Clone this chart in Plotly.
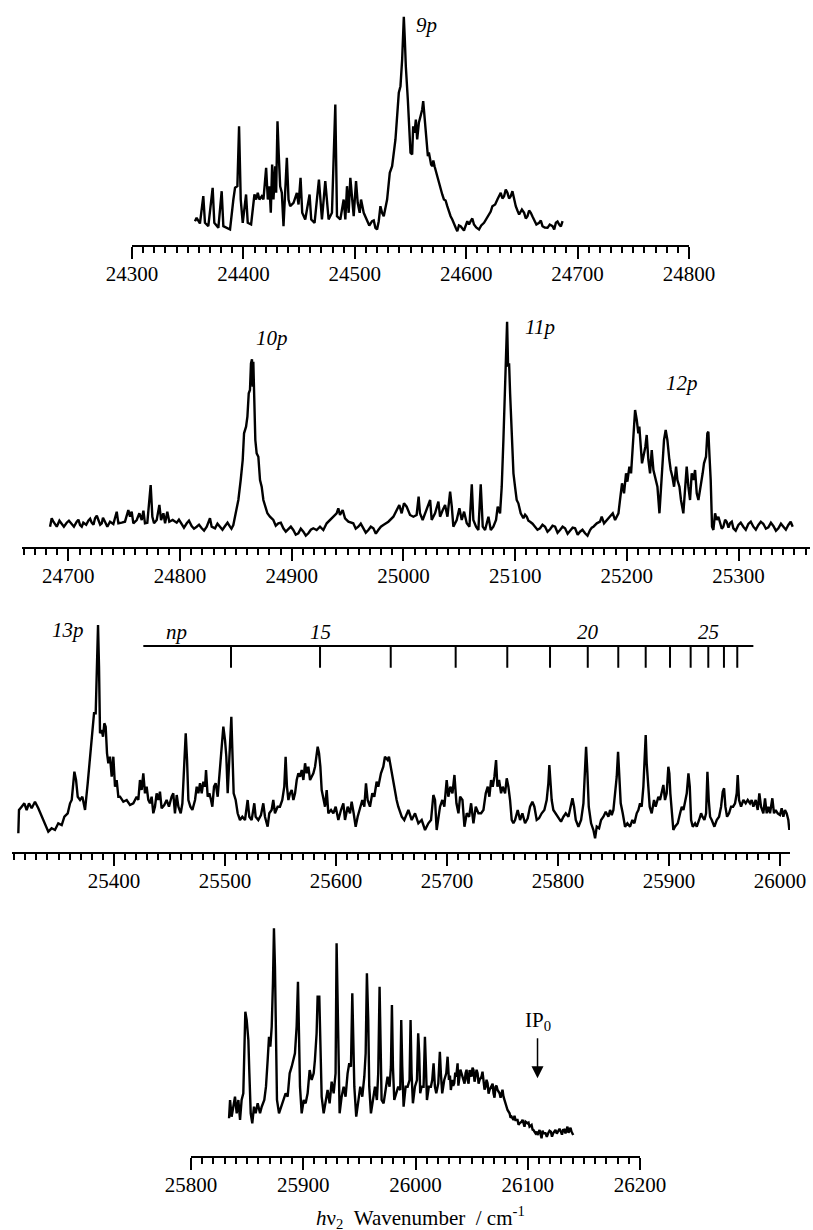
import plotly.graph_objects as go

# ---------------- data (wavenumber / cm-1, signal in arbitrary units) ----------------
p1_wn = [24356.5, 24358.0, 24361.0, 24364.0, 24365.5, 24368.5, 24372.4, 24373.9, 24377.5, 24380.5,
         24382.0, 24385.0, 24388.0, 24391.0, 24392.5, 24394.6, 24396.1, 24397.6, 24399.4, 24402.4,
         24403.9, 24406.9, 24409.9, 24411.4, 24412.9, 24414.4, 24416.5, 24418.0, 24420.4, 24421.9,
         24423.4, 24424.6, 24425.8, 24427.0, 24428.5, 24429.4, 24430.6, 24431.8, 24433.0, 24434.5,
         24436.0, 24439.0, 24440.5, 24442.0, 24445.0, 24448.0, 24449.5, 24451.3, 24452.8, 24455.5,
         24459.4, 24460.9, 24463.9, 24467.8, 24469.0, 24470.5, 24473.5, 24475.0, 24476.5, 24479.5,
         24482.5, 24484.0, 24487.0, 24490.0, 24491.5, 24493.0, 24494.5, 24496.0, 24497.5, 24499.0,
         24501.1, 24502.6, 24504.4, 24505.6, 24508.0, 24511.0, 24515.5, 24518.5, 24521.5, 24523.0,
         24524.5, 24526.0, 24529.0, 24531.4, 24533.5, 24536.5, 24539.5, 24541.0, 24542.5, 24543.4,
         24544.0, 24544.9, 24545.8, 24547.6, 24548.8, 24550.0, 24551.5, 24552.4, 24553.6, 24554.8,
         24556.0, 24557.5, 24559.0, 24560.5, 24561.4, 24562.6, 24564.4, 24565.6, 24567.4, 24569.5,
         24571.6, 24574.0, 24577.0, 24580.0, 24583.0, 24586.0, 24589.0, 24592.0, 24595.0, 24601.0,
         24604.0, 24607.0, 24611.5, 24616.0, 24620.5, 24623.5, 24628.0, 24631.0, 24634.0, 24637.0,
         24640.0, 24641.5, 24644.5, 24647.5, 24652.0, 24655.0, 24658.0, 24661.0, 24665.5, 24668.5,
         24673.0, 24677.5, 24680.5, 24683.5, 24686.5]
p1_sig = [23.3, 26.7, 21.0, 48.3, 21.7, 18.3, 56.7, 21.7, 16.7, 53.3,
          18.3, 16.7, 15.0, 45.0, 56.7, 58.3, 118.3, 45.0, 21.7, 50.0,
          21.7, 20.0, 50.0, 45.0, 51.7, 45.0, 48.3, 45.0, 76.7, 45.0,
          58.3, 31.7, 80.0, 45.0, 78.3, 51.7, 123.3, 88.3, 58.3, 51.7,
          18.3, 86.7, 45.0, 38.3, 41.7, 51.7, 40.0, 66.7, 31.7, 25.0,
          50.0, 25.0, 21.7, 65.0, 45.0, 25.0, 63.3, 41.7, 25.0, 31.7,
          140.0, 28.3, 25.0, 45.0, 25.0, 58.3, 31.7, 66.7, 45.0, 28.3,
          63.3, 41.7, 31.7, 45.0, 31.7, 25.0, 23.3, 16.7, 23.3, 38.3,
          31.7, 28.3, 45.0, 71.7, 78.3, 105.0, 151.7, 158.3, 185.0, 205.0,
          227.7, 205.0, 178.3, 145.0, 111.7, 91.7, 90.0, 118.3, 111.7, 125.0,
          105.0, 121.7, 128.3, 135.0, 143.3, 128.3, 105.0, 88.3, 85.0, 78.3,
          78.3, 68.3, 55.0, 45.0, 38.3, 28.3, 21.7, 13.3, 18.3, 23.3,
          23.3, 20.0, 15.0, 21.7, 30.0, 38.3, 45.0, 51.7, 48.3, 51.7,
          48.3, 53.3, 38.3, 30.0, 31.7, 28.3, 31.7, 25.0, 21.7, 18.3,
          16.7, 18.3, 21.7, 20.0, 23.3]
# extra readings of the trace's fine structure (noise) in panel 1
p1_wn_fine = [24509.5, 24513.0, 24517.0, 24520.0, 24566.5, 24568.5, 24570.5, 24573.0, 24575.5,
              24578.5, 24581.5, 24584.5, 24587.5, 24590.5, 24593.5, 24598.0, 24602.5, 24605.5,
              24609.0, 24613.5, 24618.0, 24622.0, 24626.0, 24629.5, 24632.5, 24635.5, 24638.5,
              24643.0, 24646.0, 24650.0, 24653.5, 24656.5, 24659.5, 24663.0, 24667.0, 24670.5,
              24675.0, 24679.0, 24682.0, 24685.0]
p1_sig_fine = [28, 19, 24, 15, 92, 80, 84, 72, 63,
               50, 44, 33, 25, 17, 19, 14, 20, 26,
               17, 19, 26, 33, 40, 49, 46, 55, 46,
               45, 34, 35, 26, 34, 28, 20, 24, 17,
               20, 15, 23, 18]

p2_wn = [24683.6, 24685.1, 24686.6, 24689.6, 24694.0, 24698.5, 24703.0, 24707.5, 24710.5, 24713.4,
         24717.9, 24720.9, 24723.9, 24726.9, 24729.9, 24732.8, 24734.9, 24737.3, 24740.3, 24743.3,
         24744.8, 24747.8, 24750.7, 24753.7, 24755.2, 24756.7, 24758.2, 24761.2, 24763.6, 24765.7,
         24767.2, 24768.6, 24770.7, 24773.7, 24775.2, 24776.7, 24779.1, 24781.5, 24783.0, 24785.1,
         24786.6, 24788.6, 24790.4, 24793.4, 24797.0, 24801.5, 24806.0, 24810.4, 24814.9, 24819.4,
         24823.9, 24826.8, 24828.3, 24831.3, 24835.8, 24840.3, 24844.7, 24847.7, 24850.1, 24852.2,
         24854.3, 24856.1, 24857.3, 24859.1, 24860.3, 24861.5, 24862.6, 24863.5, 24864.4, 24865.0,
         24865.6, 24866.5, 24867.4, 24868.6, 24870.1, 24871.6, 24873.1, 24874.6, 24876.1, 24878.2,
         24880.5, 24883.5, 24888.0, 24892.5, 24897.0, 24901.4, 24905.9, 24910.4, 24914.9, 24919.3,
         24922.3, 24925.3, 24928.3, 24931.3, 24934.3, 24937.2, 24940.2, 24941.7, 24943.2, 24945.6,
         24947.7, 24950.7, 24955.1, 24959.6, 24964.1, 24968.6, 24973.1, 24977.5, 24982.0, 24986.5,
         24991.0, 24994.0, 24996.3, 24998.4, 25000.5, 25002.9, 25005.9, 25008.9, 25011.8, 25013.6,
         25014.8, 25017.2, 25023.9, 25025.3, 25028.3, 25031.3, 25032.8, 25035.2, 25037.3, 25039.4,
         25041.8, 25043.3, 25044.7, 25047.7, 25050.1, 25052.2, 25054.3, 25056.7, 25059.1, 25061.2,
         25062.6, 25065.0, 25067.1, 25069.2, 25071.0, 25073.1, 25076.1, 25078.2, 25080.5, 25082.9,
         25084.4, 25086.5, 25088.0, 25089.5, 25091.0, 25091.9, 25092.8, 25093.7, 25094.6, 25095.5,
         25097.0, 25098.5, 25099.9, 25101.4, 25102.9, 25105.0, 25107.4, 25110.4, 25113.4, 25117.8,
         25122.3, 25126.8, 25131.3, 25135.8, 25140.2, 25144.7, 25149.2, 25153.7, 25158.1, 25162.6,
         25167.1, 25170.1, 25173.1, 25176.0, 25177.5, 25179.6, 25182.0, 25185.0, 25187.4, 25189.5,
         25192.5, 25193.9, 25195.7, 25197.5, 25199.3, 25200.5, 25202.3, 25203.8, 25205.9, 25207.4,
         25208.9, 25210.3, 25211.2, 25212.4, 25213.6, 25214.8, 25216.6, 25217.8, 25219.3, 25220.8,
         25222.3, 25223.8, 25225.3, 25227.4, 25229.2, 25230.3, 25231.8, 25233.3, 25234.8, 25236.3,
         25238.1, 25239.3, 25240.8, 25242.3, 25244.1, 25245.3, 25247.1, 25248.5, 25250.6, 25252.1,
         25253.6, 25255.1, 25256.6, 25258.1, 25259.6, 25261.1, 25262.6, 25264.1, 25266.2, 25267.9,
         25269.1, 25270.9, 25272.1, 25273.0, 25273.9, 25275.1, 25276.3, 25277.5, 25279.0, 25280.5,
         25283.5, 25286.4, 25289.4, 25292.4, 25295.4, 25299.9, 25304.3, 25308.8, 25313.3, 25317.8,
         25322.3, 25326.7, 25331.2, 25335.7, 25340.2, 25344.6, 25346.7, 25348.5]
p2_sig = [20, 28.4, 25, 20, 23.4, 24, 22.7, 25, 21.7, 24,
          26, 24, 28.4, 26.7, 23.4, 25, 20, 25, 22.7, 35,
          23.4, 24, 25, 36.7, 30, 35, 23.4, 26.7, 33.4, 26.7,
          36, 23.4, 24, 61.7, 30, 23.4, 26.7, 41.7, 26.7, 33.4,
          23.4, 35, 25, 26.7, 24, 22.7, 23.4, 20.7, 20, 18.4,
          20, 28.4, 20, 18.4, 20, 20.7, 20, 21.7, 33.4, 46.7,
          66.7, 86.7, 113.4, 120, 130, 153.4, 156.7, 183.4, 187.4, 160,
          185, 146.7, 106.7, 93.4, 90, 66.7, 60, 46.7, 40, 33.4,
          30, 26.7, 23.4, 18.4, 17.4, 16.7, 13.4, 15, 13.4, 18.4,
          16.7, 20, 16.7, 23.4, 26.7, 30, 33.4, 38.4, 31.7, 36.7,
          28.4, 25, 23.4, 20, 18.4, 16.7, 18.4, 16.7, 21.7, 25,
          30, 36.7, 41.7, 33.4, 43.4, 40, 31.7, 30, 31.7, 50,
          33.4, 26.7, 46.7, 26.7, 33.4, 45, 30, 36.7, 41.7, 30,
          55, 40, 20, 26.7, 38.4, 26.7, 35, 23.4, 20, 62.4,
          26.7, 20, 16.7, 62.4, 20, 16.7, 30, 16.7, 20, 26.7,
          40, 33.4, 60, 106.7, 163.4, 186.7, 225, 180, 183.4, 153.4,
          110, 73.4, 60, 46.7, 43.4, 33.4, 28.4, 30, 25, 20,
          18.4, 20, 17.4, 20, 16.7, 18.4, 16, 18.4, 15, 13.4,
          16.7, 20, 23.4, 25, 30, 23.4, 26.7, 30, 33.4, 26.7,
          33.4, 46.7, 63.4, 53.4, 73.4, 65, 80, 73.4, 106.7, 136.7,
          126.7, 113.4, 120, 103.4, 83.4, 90, 100, 111.7, 86.7, 73.4,
          96.7, 76.7, 70, 60, 33.4, 53.4, 73.4, 106.7, 116.7, 106.7,
          86.7, 76.7, 70, 60, 80, 66.7, 60, 46.7, 33.4, 56.7,
          80, 60, 46.7, 73.4, 66.7, 76.7, 53.4, 46.7, 60, 73.4,
          83.4, 90, 113.4, 115, 93.4, 66.7, 20, 16.7, 33.4, 26.7,
          23.4, 20, 25, 23.4, 18.4, 21.7, 20, 22.7, 20, 21.7,
          22.7, 19.4, 20.7, 18.4, 20, 21.7, 25, 20]
p2_wn_fine = [24692.0, 24696.0, 24700.5, 24705.0, 24709.0, 24712.0, 24716.0, 24719.5, 24722.5,
              24725.5, 24728.5, 24731.0, 24799.0, 24803.5, 24808.0, 24812.5, 24817.0, 24821.5,
              24833.5, 24838.0, 24842.5, 24846.0,
              24885.7, 24890.2, 24894.7, 24899.2, 24903.6, 24908.1, 24912.6, 24917.1,
              24957.3, 24961.8, 24966.3, 24970.8, 24975.3, 24979.8,
              25108.9, 25111.9, 25115.6, 25120.0, 25124.5, 25129.0, 25133.5, 25138.0, 25142.5,
              25147.0, 25151.5, 25156.0, 25160.3, 25164.8, 25168.6,
              25282.0, 25285.0, 25288.0, 25291.0, 25294.0, 25297.5, 25302.0, 25306.5, 25311.0,
              25315.5, 25320.0, 25324.5, 25329.0, 25333.5, 25338.0, 25342.4]
p2_sig_fine = [26, 20, 26, 20, 27, 20, 22, 28, 22,
               31, 22, 29, 27, 19, 26, 18, 22, 16,
               23, 17, 24, 18,
               21, 24, 15, 20, 12, 18, 11, 17,
               18, 23, 14, 20, 13, 20,
               32, 26, 23, 17, 22, 15, 21, 14, 20,
               13, 19, 12, 17, 11, 19,
               30, 18, 27, 19, 25, 16, 24, 17, 25,
               17, 25, 18, 24, 16, 23, 17]

p3_wn = [25313.8, 25314.4, 25316.8, 25319.2, 25321.3, 25323.4, 25325.8, 25328.8, 25331.8, 25334.8,
         25337.8, 25340.8, 25343.8, 25346.8, 25349.8, 25352.9, 25355.3, 25358.3, 25360.4, 25361.9,
         25364.3, 25365.8, 25367.3, 25369.4, 25371.5, 25373.9, 25376.3, 25378.4, 25380.5, 25382.0,
         25383.5, 25384.7, 25385.6, 25386.5, 25387.4, 25388.9, 25390.1, 25391.3, 25392.5, 25393.7,
         25394.9, 25396.4, 25397.9, 25399.4, 25400.9, 25402.4, 25403.9, 25405.4, 25408.4, 25411.4,
         25414.4, 25417.4, 25420.4, 25421.9, 25423.4, 25424.9, 25426.4, 25427.9, 25429.4, 25430.9,
         25432.4, 25433.9, 25435.4, 25436.9, 25438.4, 25439.9, 25441.4, 25442.9, 25445.3, 25447.4,
         25449.5, 25451.9, 25453.4, 25454.9, 25456.5, 25458.0, 25460.1, 25461.6, 25463.4, 25464.6,
         25465.8, 25467.0, 25468.8, 25470.6, 25473.0, 25474.5, 25476.0, 25477.5, 25479.0, 25480.5,
         25482.0, 25482.9, 25484.4, 25485.9, 25487.4, 25488.6, 25490.1, 25491.6, 25493.4, 25495.5,
         25497.0, 25498.5, 25500.0, 25501.2, 25502.4, 25503.6, 25504.8, 25505.7, 25506.6, 25507.8,
         25509.6, 25511.4, 25513.5, 25515.6, 25518.0, 25520.4, 25521.9, 25524.0, 25526.4, 25527.6,
         25530.0, 25532.4, 25534.5, 25536.0, 25538.4, 25539.9, 25542.0, 25543.5, 25545.0, 25547.4,
         25549.5, 25551.6, 25553.4, 25554.6, 25555.8, 25557.1, 25558.6, 25560.1, 25561.6, 25563.1,
         25564.6, 25566.1, 25567.6, 25569.1, 25570.6, 25572.1, 25573.6, 25575.1, 25576.6, 25578.1,
         25579.6, 25581.1, 25582.6, 25583.5, 25584.7, 25585.9, 25587.1, 25588.6, 25590.1, 25591.6,
         25593.1, 25595.5, 25597.6, 25599.7, 25602.1, 25604.5, 25606.6, 25608.1, 25610.5, 25612.6,
         25614.1, 25615.9, 25617.7, 25619.5, 25621.6, 25623.7, 25625.5, 25627.0, 25628.5, 25630.6,
         25632.7, 25634.5, 25636.6, 25638.1, 25640.5, 25642.6, 25644.1, 25646.5, 25647.7, 25649.5,
         25651.0, 25652.5, 25654.6, 25656.1, 25659.2, 25661.5,
         25665.2, 25668.2, 25671.2, 25674.2, 25677.2, 25680.2, 25683.2, 25685.6, 25687.7, 25689.2,
         25690.7, 25693.7, 25695.8, 25697.6, 25699.7, 25701.2, 25703.0, 25704.9, 25706.7, 25708.5,
         25710.3, 25711.8, 25713.9, 25715.7, 25717.8, 25719.9, 25721.7, 25723.8, 25725.9, 25728.3,
         25730.7, 25732.8, 25734.9, 25736.7, 25738.2, 25739.7, 25741.2, 25742.7, 25744.2, 25745.4,
         25746.9, 25748.7, 25750.2, 25752.3, 25753.8, 25755.3, 25756.8, 25758.3, 25759.8, 25761.3,
         25763.7, 25765.8, 25767.9, 25770.3, 25772.7, 25774.8, 25776.9, 25778.7, 25780.8, 25782.9,
         25785.3, 25787.7, 25789.8, 25791.3, 25792.2, 25793.1, 25794.3, 25795.8, 25797.9, 25800.3,
         25802.7, 25804.9, 25807.0, 25809.4, 25811.5, 25813.0, 25814.5, 25816.0, 25818.4, 25820.8,
         25822.9, 25824.1, 25825.3, 25826.5, 25827.7, 25829.8, 25831.9, 25833.4, 25834.9, 25837.0,
         25838.8, 25840.9, 25843.0, 25845.4, 25846.9, 25848.4, 25849.9, 25851.4, 25852.9, 25854.1,
         25855.3, 25856.5, 25858.3, 25860.4, 25862.5, 25864.9, 25867.0, 25868.8, 25870.9, 25872.4,
         25873.9, 25875.4, 25876.9, 25878.1, 25879.0, 25879.9, 25881.1, 25882.6, 25884.4, 25886.5,
         25888.0, 25890.4, 25891.9, 25893.4, 25894.9, 25896.4, 25897.9, 25899.4, 25900.3, 25901.2,
         25902.4, 25903.9, 25905.4, 25907.9, 25910.0, 25911.5, 25913.0, 25914.5, 25916.0, 25917.5,
         25918.7, 25919.9, 25921.4, 25923.5, 25925.0, 25927.1, 25928.9, 25930.1, 25931.9, 25933.4,
         25934.6, 25935.8, 25937.0, 25938.5, 25940.9, 25943.0, 25945.1, 25946.9, 25948.4, 25949.6,
         25950.8, 25952.3, 25954.1, 25955.9, 25957.7, 25959.5, 25961.0, 25961.9, 25963.1, 25964.9,
         25967.0, 25969.1, 25970.9, 25973.0, 25974.5, 25976.0, 25978.1, 25979.9, 25981.4, 25982.9,
         25985.0, 25986.5, 25988.0, 25989.5, 25991.0, 25993.1, 25994.6, 25996.1, 25997.9, 26000.0,
         26001.5, 26003.0, 26004.5, 26006.0, 26007.5, 26008.4]
p3_sig = [18.4, 41.7, 45, 48.4, 41.7, 48.4, 43.4, 50, 43.4, 35,
          28.4, 20, 23.4, 21.7, 28.4, 26.7, 35, 38.4, 48.4, 51.7,
          80, 71.7, 55, 51.7, 55, 41.7, 68.4, 91.7, 118.4, 138.4,
          138.4, 185, 226.7, 185, 118.4, 121.7, 115, 128.4, 125, 98.4,
          88.4, 95, 75, 95, 65, 71.7, 55, 55, 50, 51.7,
          46.7, 48.4, 55, 51.7, 71.7, 61.7, 78.4, 58.4, 65, 51.7,
          48.4, 55, 38.4, 45, 58.4, 51.7, 60, 43.4, 46.7, 51.7,
          45, 55, 58.4, 38.4, 56.7, 45, 38.4, 48.4, 91.7, 118.4,
          91.7, 51.7, 45, 41.7, 51.7, 65, 58.4, 68.4, 58.4, 70,
          65, 81.7, 55, 58.4, 51.7, 45, 65, 68.4, 55, 81.7,
          98.4, 125, 111.7, 95, 58.4, 85, 111.7, 135, 101.7, 58.4,
          51.7, 38.4, 31.7, 35, 31.7, 51.7, 35, 31.7, 48.4, 35,
          31.7, 36.7, 48.4, 35, 25, 38.4, 41.7, 51.7, 38.4, 45,
          45, 51.7, 65, 95, 65, 51.7, 58.4, 61.7, 51.7, 58.4,
          71.7, 78.4, 75, 81.7, 71.7, 88.4, 78.4, 85, 71.7, 75,
          78.4, 85, 95, 105, 98.4, 85, 61.7, 51.7, 45, 61.7,
          38.4, 41.7, 38.4, 45, 31.7, 41.7, 48.4, 31.7, 45, 38.4,
          50, 38.4, 25, 35, 45, 51.7, 45, 68.4, 51.7, 45,
          58.4, 55, 70, 65, 78.4, 85, 95, 91.7, 95, 85,
          75, 65, 51.7, 45, 35, 31.7,
          41.7, 31.7, 38.4, 28.4, 31.7, 21.7, 28.4, 31.7, 56.7, 51.7,
          21.7, 45, 51.7, 45, 71.7, 55, 65, 58.4, 76.7, 48.4,
          38.4, 55, 51.7, 25, 38.4, 35, 48.4, 28.4, 45, 38.4,
          38.4, 41.7, 58.4, 65, 55, 71.7, 65, 75, 91.7, 65,
          71.7, 58.4, 65, 58.4, 73.4, 65, 51.7, 31.7, 28.4, 31.7,
          41.7, 31.7, 38.4, 28.4, 33.4, 45, 50, 45, 31.7, 33.4,
          38.4, 41.7, 51.7, 68.4, 86.7, 71.7, 51.7, 41.7, 38.4, 33.4,
          30, 35, 38.4, 35, 45, 53.4, 45, 31.7, 25, 31.7,
          48.4, 75, 105, 78.4, 45, 28.4, 21.7, 13.4, 25, 23.4,
          31.7, 35, 40, 35, 41.7, 36.7, 41.7, 58.4, 75, 100,
          71.7, 48.4, 38.4, 25, 28.4, 25, 31.7, 28.4, 38.4, 41.7,
          48.4, 45, 65, 91.7, 116.7, 88.4, 65, 45, 38.4, 51.7,
          45, 55, 51.7, 58.4, 66.7, 51.7, 58.4, 85, 78.4, 58.4,
          38.4, 21.7, 25, 28.4, 38.4, 45, 41.7, 51.7, 58.4, 78.4,
          65, 31.7, 25, 28.4, 25, 31.7, 38.4, 35, 31.7, 38.4,
          80, 51.7, 35, 31.7, 25, 31.7, 35, 45, 60, 63.4,
          45, 35, 38.4, 45, 45, 48.4, 58.4, 76.7, 51.7, 45,
          51.7, 48.4, 51.7, 48.4, 51.7, 45, 51.7, 41.7, 58.4, 45,
          38.4, 53.4, 38.4, 45, 38.4, 53.4, 38.4, 41.7, 38.4, 36.7,
          43.4, 35, 41.7, 38.4, 31.7, 21.7]

p4_wn = [25833.9, 25834.8, 25836.2, 25837.7, 25839.2, 25840.7, 25842.2, 25843.7, 25845.1, 25846.6,
         25847.5, 25848.4, 25849.6, 25851.1, 25852.0, 25853.2, 25854.6, 25856.1, 25857.6, 25859.4,
         25861.5, 25863.0, 25865.3, 25866.8, 25868.3, 25869.5, 25870.7, 25871.9, 25873.0, 25873.9,
         25874.8, 25875.7, 25876.6, 25878.4, 25880.2, 25882.2, 25884.3, 25886.1, 25887.9, 25889.7,
         25891.4, 25892.6, 25894.1, 25895.3, 25896.2, 25897.1, 25898.6, 25900.4, 25902.1, 25903.9,
         25905.7, 25907.5, 25909.3, 25910.4, 25911.9, 25912.8, 25914.3, 25915.2, 25916.4, 25918.2,
         25919.9, 25921.7, 25923.5, 25925.3, 25927.1, 25928.8, 25929.7, 25930.6, 25931.5, 25932.4,
         25934.2, 25936.0, 25937.7, 25939.5, 25941.0, 25942.5, 25943.7, 25944.6, 25945.5, 25947.2,
         25949.0, 25950.8, 25952.6, 25954.4, 25955.6, 25956.7, 25957.9, 25958.8, 25960.3, 25962.1,
         25963.9, 25965.6, 25966.8, 25968.0, 25968.9, 25969.8, 25971.6, 25973.4, 25975.1, 25976.9,
         25978.1, 25979.0, 25979.9, 25981.1, 25982.9, 25984.6, 25986.4, 25987.3, 25988.2, 25989.4,
         25991.2, 25993.0, 25994.7, 25995.6, 25996.5, 25997.7, 25999.5, 26001.3, 26002.4, 26003.3,
         26004.2, 26005.4, 26007.2, 26008.4, 26009.3, 26010.2, 26011.9, 26013.7, 26014.9, 26016.1,
         26017.3, 26018.5, 26020.3, 26021.7, 26022.6, 26023.8, 26025.6, 26027.4, 26028.6, 26029.8,
         26031.5, 26032.7, 26034.5, 26036.3, 26037.5, 26039.0, 26041.0, 26042.8, 26044.6, 26046.4,
         26048.2, 26049.9, 26051.7, 26053.5, 26055.3, 26057.1, 26058.8, 26060.6, 26062.4, 26064.2,
         26066.0, 26067.8, 26069.5, 26071.3, 26073.1, 26074.9, 26076.6, 26078.4, 26080.2, 26082.0,
         26083.8, 26085.6, 26087.3, 26089.1, 26090.9, 26092.7, 26094.5, 26096.2, 26098.0, 26099.8,
         26101.6, 26103.4, 26105.1, 26106.9, 26108.7, 26110.5, 26112.3, 26114.0, 26115.8, 26118.2,
         26120.6, 26122.6, 26124.7, 26127.1, 26129.5, 26131.5, 26133.6, 26135.4, 26137.2, 26139.0,
         26140.5]
p4_sig = [37.4, 55.7, 39, 49, 59, 42.4, 55.7, 35.7, 55.7, 62.4,
          95.7, 144, 135.7, 115.7, 82.4, 42.4, 32.4, 49, 42.4, 52.4,
          42.4, 49, 55.7, 69, 95.7, 119, 109, 129, 172.4, 227.4,
          189, 95.7, 55.7, 42.4, 49, 55.7, 62.4, 59, 82.4, 89,
          99, 102.4, 129, 174, 122.4, 69, 42.4, 55.7, 52.4, 62.4,
          85.7, 75.7, 82.4, 95.7, 122.4, 159, 159, 122.4, 59, 42.4,
          55.7, 65.7, 52.4, 74, 62.4, 82.4, 212.4, 155.7, 69, 42.4,
          59, 69, 59, 82.4, 92.4, 89, 162.4, 115.7, 69, 39,
          55.7, 69, 59, 79, 102.4, 182.4, 135.7, 69, 42.4, 55.7,
          69, 55.7, 82.4, 169, 109, 55.7, 52.4, 65.7, 79, 69,
          89, 150.7, 89, 55.7, 62.4, 69, 65.7, 135.7, 89, 49,
          69, 69, 75.7, 135.7, 82.4, 52.4, 69, 75.7, 122.4, 102.4,
          62.4, 69, 69, 119, 89, 55.7, 69, 69, 75.7, 92.4,
          69, 62.4, 72.4, 104, 82.4, 62.4, 75.7, 82.4, 99, 75.7,
          65.7, 75.7, 72.4, 79, 92.4, 75.7, 82.4, 75.7, 82.4, 75.7,
          85.7, 79, 85.7, 79, 82.4, 75.7, 79, 75.7, 69, 72.4,
          65.7, 69, 62.4, 69, 65.7, 62.4, 62.4, 59, 52.4, 45.7,
          42.4, 39, 35.7, 35.7, 35.7, 32.4, 34, 32.4, 34, 32.4,
          29, 30.7, 25.7, 22.4, 20.7, 25.7, 17.4, 22.4, 22.4, 22.4,
          24, 22.4, 25.7, 24, 24, 25.7, 22.4, 29, 25.7, 24,
          20.7]
p4_wn_fine = [26030.7, 26033.6, 26035.4, 26038.2, 26040.0, 26043.7, 26045.5, 26047.3, 26050.8,
              26052.6, 26054.4, 26056.2, 26059.7, 26061.5, 26063.3, 26065.1, 26068.7, 26070.4,
              26072.2, 26075.8, 26077.5, 26079.3, 26081.1, 26084.7, 26088.2, 26091.8, 26095.4,
              26097.1, 26100.7, 26104.3, 26107.8, 26111.4, 26113.2, 26117.0, 26119.4, 26121.6,
              26125.9, 26128.3, 26130.5, 26132.6, 26136.3, 26138.1]
p4_sig_fine = [80, 70, 83, 70, 86, 72, 86, 72, 88,
               74, 86, 72, 84, 66, 76, 62, 72, 58,
               70, 58, 66, 55, 47, 38, 40, 31, 36,
               29, 33, 26, 24, 20, 25, 19, 25, 19,
               22, 27, 21, 26, 23, 28]

# Rydberg "np" progression marks (n = 14 ... 27)
ladder_n = [14, 15, 16, 17, 18, 19, 20, 21, 22, 23, 24, 25, 26, 27]
ladder_wn = [25505.4, 25585.6, 25649.3, 25707.8, 25754.3, 25792.8, 25826.8, 25854.3,
             25879.0, 25900.9, 25919.5, 25935.4, 25949.5, 25961.5]
ladder_span = [25426.4, 25976.0]
ladder_labels = {15: "15", 20: "20", 25: "25"}

peak_labels = ["9p", "10p", "11p", "12p", "13p"]
peak_label_wn = [24564.5, 24882.1, 25122.3, 25249.2, 25358.8]
ion_limit_wn = 26108.7


def merged(xa, ya, xb=(), yb=()):
    pts = sorted(zip(list(xa) + list(xb), list(ya) + list(yb)))
    return [p[0] for p in pts], [p[1] for p in pts]


# ---------------- figure ----------------
W, H = 813, 1230
SERIF = "Liberation Serif"

# panel geometry in pixels: left, right, axis line y, top y, x range
geo = [
    (132, 689, 244.5, 0, [24300, 24800]),
    (22, 810, 546.7, 290, [24658.5, 25364.0]),
    (12, 790, 851.7, 600, [25308.1, 26009.0]),
    (191, 640, 1155.7, 900, [25800, 26200]),
]
series = [merged(p1_wn, p1_sig, p1_wn_fine, p1_sig_fine),
          merged(p2_wn, p2_sig, p2_wn_fine, p2_sig_fine),
          merged(p3_wn, p3_sig),
          merged(p4_wn, p4_sig, p4_wn_fine, p4_sig_fine)]

fig = go.Figure()
for i, ((xw, ys), (x0, x1, yb, yt, xr)) in enumerate(zip(series, geo), start=1):
    sfx = "" if i == 1 else str(i)
    fig.add_trace(go.Scatter(x=xw, y=ys, mode="lines",
                             line=dict(color="black", width=2.4),
                             xaxis="x" + sfx, yaxis="y" + sfx,
                             hoverinfo="skip", showlegend=False))
    fig.layout["xaxis" + sfx] = dict(
        domain=[x0 / W, x1 / W], range=xr, anchor="y" + sfx,
        showline=True, linecolor="black", linewidth=2,
        ticks="outside", ticklen=12, tickwidth=1.6, tickcolor="black",
        tickmode="linear", tick0=0, dtick=100, tickformat="d",
        ticklabelstandoff=-3, automargin=False,
        minor=dict(ticks="outside", ticklen=6, tickwidth=1.6, tickcolor="black",
                   tickmode="linear", tick0=0, dtick=10, showgrid=False),
        tickfont=dict(family=SERIF, size=21, color="black"),
        showgrid=False, zeroline=False, fixedrange=True,
    )
    fig.layout["yaxis" + sfx] = dict(
        domain=[1 - yb / H, 1 - yt / H], range=[0, yb - yt],
        anchor="x" + sfx, visible=False, fixedrange=True, automargin=False,
    )

# np ladder on panel 3
lad_y_top, lad_y_bot = 205.7, 184.0
lx = [ladder_span[0], ladder_span[1], None]
ly = [lad_y_top, lad_y_top, None]
for w in ladder_wn:
    lx += [w, w, None]
    ly += [lad_y_top, lad_y_bot, None]
fig.add_trace(go.Scatter(x=lx, y=ly, mode="lines", line=dict(color="black", width=2),
                         xaxis="x3", yaxis="y3", hoverinfo="skip", showlegend=False))

ann = []
italic_font = dict(family=SERIF, size=21, color="black")
peak_axes = ["", "2", "2", "2", "3"]
peak_y = [219.5, 208.4, 220.0, 163.4, 221.7]
for txt, xw, yy, ax in zip(peak_labels, peak_label_wn, peak_y, peak_axes):
    ann.append(dict(x=xw, y=yy, xref="x" + ax, yref="y" + ax, text="<i>%s</i>" % txt,
                    showarrow=False, font=italic_font))
ann.append(dict(x=25456.5, y=220, xref="x3", yref="y3", text="<i>np</i>",
                showarrow=False, font=italic_font))
for n, w in zip(ladder_n, ladder_wn):
    if n in ladder_labels:
        ann.append(dict(x=w, y=220, xref="x3", yref="y3", text="<i>%s</i>" % ladder_labels[n],
                        showarrow=False, font=italic_font))
# IP0 marker
ann.append(dict(x=ion_limit_wn, y=135, xref="x4", yref="y4", text="IP<sub>0</sub>",
                showarrow=False, font=dict(family=SERIF, size=21, color="black")))
ann.append(dict(x=ion_limit_wn, y=77.4, xref="x4", yref="y4", ax=ion_limit_wn, ay=119,
                axref="x4", ayref="y4", text="", showarrow=True, arrowhead=2,
                arrowsize=1.6, arrowwidth=1.5, arrowcolor="black"))
# axis title
ann.append(dict(x=420 / W, y=1 - 1217 / H, xref="paper", yref="paper", yanchor="middle",
                text="<i>h</i>\u03bd<sub>2</sub>\u00a0\u00a0Wavenumber\u00a0\u00a0/\u00a0cm<sup>-1</sup>",
                showarrow=False, font=dict(family=SERIF, size=21, color="black")))

fig.update_layout(width=W, height=H, autosize=False,
                  margin=dict(l=0, r=0, t=0, b=0, pad=0, autoexpand=False),
                  paper_bgcolor="white", plot_bgcolor="white",
                  showlegend=False, hovermode=False, annotations=ann)

fig.write_html("out.html", config={"displayModeBar": False, "responsive": False},
               post_script="document.body.style.margin='0';document.body.style.overflow='hidden';")
